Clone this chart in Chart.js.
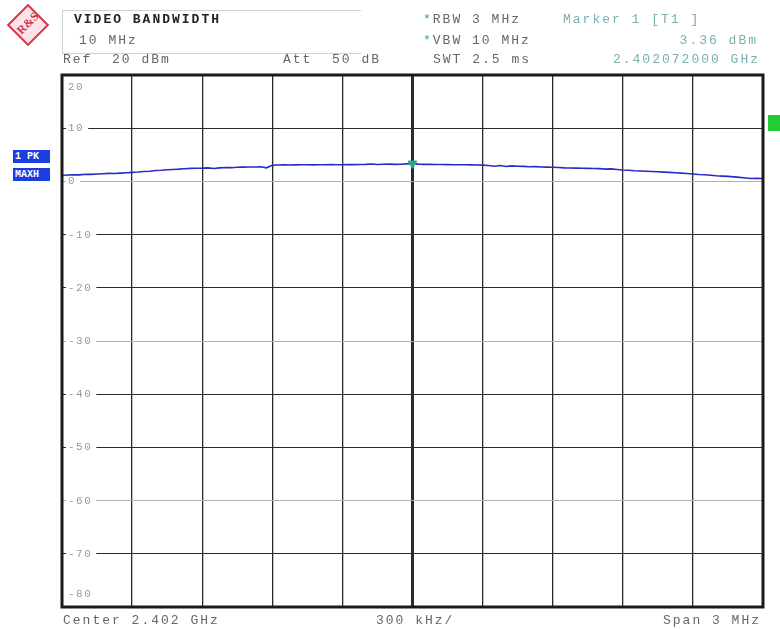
<!DOCTYPE html>
<html>
<head>
<meta charset="utf-8">
<script src="https://cdn.jsdelivr.net/npm/chart.js@4/dist/chart.umd.min.js"></script>
<style>
  html, body { margin: 0; padding: 0; background: #fff; }
  #wrap { position: relative; width: 780px; height: 629px; overflow: hidden; font-family: "Liberation Mono", "DejaVu Sans Mono", monospace; }
  #c { position: absolute; left: 0; top: 0; }
  .t { position: absolute; font-size: 13px; letter-spacing: 2px; color: #666; white-space: pre; line-height: 14px; }
  .b { font-weight: bold; color: #222; }
  .m { color: #7ab0b0; }
  .g { color: #2fb070; }
  .r { text-align: right; }
  #hbox { position: absolute; left: 62px; top: 10px; width: 298px; height: 42px; border: 1px solid #d0d0d0; border-right: none; }
  #logo { position: absolute; left: 13px; top: 10px; width: 26px; height: 26px; transform: rotate(45deg); border: 2px solid #d8334a; background: #fbe3e8; }
  #logotxt { position: absolute; left: 13px; top: 16px; width: 30px; font: bold 12px "Liberation Serif", serif; color: #d8334a; transform: rotate(-45deg); text-align: center; }
  .tag { position: absolute; left: 13px; width: 37px; height: 13px; background: #1a3ee0; color: #fff; font: bold 10px "Liberation Mono", monospace; line-height: 13px; padding-left: 2px; box-sizing: border-box; white-space: pre; }
  #green { position: absolute; left: 768px; top: 115px; width: 12px; height: 16px; background: #22cc33; }
</style>
</head>
<body>
<div id="wrap">
  <canvas id="c" width="780" height="629"></canvas>
  <div id="logo"></div>
  <div id="logotxt">R&amp;S</div>
  <div id="hbox"></div>
  <div class="t b" style="left:74px;top:13px;">VIDEO BANDWIDTH</div>
  <div class="t" style="left:79px;top:34px;">10 MHz</div>
  <div class="t" style="left:63px;top:53px;">Ref  20 dBm</div>
  <div class="t" style="left:283px;top:53px;">Att  50 dB</div>
  <div class="t" style="left:423px;top:13px;"><span class="g">*</span>RBW 3 MHz</div>
  <div class="t" style="left:423px;top:34px;"><span class="g">*</span>VBW 10 MHz</div>
  <div class="t" style="left:433px;top:53px;">SWT 2.5 ms</div>
  <div class="t m" style="left:563px;top:13px;">Marker 1 [T1 ]</div>
  <div class="t m r" style="right:22px;top:34px;">3.36 dBm</div>
  <div class="t m r" style="right:20px;top:53px;">2.402072000 GHz</div>
  <div class="t" style="left:63px;top:614px;">Center 2.402 GHz</div>
  <div class="t" style="left:376px;top:614px;">300 kHz/</div>
  <div class="t r" style="right:19px;top:614px;">Span 3 MHz</div>
  <div class="tag" style="top:150px;">1 PK</div>
  <div class="tag" style="top:168px;">MAXH</div>
  <div id="green"></div>
</div>
<script>
// Frequency offsets from center (kHz); sweep points are evenly spaced
const spanStartKHz = -1500;
const sweepStepKHz = 25;
// Trace level (dBm)
const traceLevels = [
  1.10, 1.20, 1.25, 1.22, 1.35, 1.32, 1.40, 1.45, 1.50, 1.48,
  1.55, 1.62, 1.70, 1.76, 1.85, 1.92, 2.05, 2.10, 2.20, 2.25,
  2.30, 2.38, 2.45, 2.48, 2.50, 2.55, 2.42, 2.55, 2.60, 2.58,
  2.65, 2.68, 2.70, 2.72, 2.75, 2.55, 3.05, 3.08, 3.10, 3.08,
  3.10, 3.12, 3.12, 3.10, 3.12, 3.14, 3.15, 3.12, 3.13, 3.16,
  3.15, 3.18, 3.20, 3.28, 3.18, 3.22, 3.25, 3.20, 3.22, 3.30,
  3.36, 3.25, 3.20, 3.20, 3.18, 3.17, 3.15, 3.14, 3.12, 3.12,
  3.10, 3.08, 3.05, 3.00, 2.85, 2.98, 2.80, 2.92, 2.85, 2.82,
  2.75, 2.78, 2.70, 2.68, 2.65, 2.62, 2.55, 2.52, 2.50, 2.48,
  2.45, 2.42, 2.40, 2.30, 2.35, 2.25, 2.15, 2.10, 2.00, 1.95,
  1.90, 1.85, 1.80, 1.75, 1.70, 1.62, 1.55, 1.48, 1.40, 1.30,
  1.25, 1.15, 1.05, 1.00, 0.95, 0.85, 0.75, 0.65, 0.55, 0.60,
  0.55
];
// Marker 1
const markerOffsetKHz = [0];
const markerLevel = [3.36];
// Axis
const yTickLabels = ["20", "10", "0", "-10", "-20", "-30", "-40", "-50", "-60", "-70", "-80"];
const yMin = -80, yMax = 20, yStep = 10;
const xMin = -1500, xMax = 1500, xStep = 300;

const tracePoints = traceLevels.map((v, i) => ({ x: spanStartKHz + i * sweepStepKHz, y: v }));
const markerPoints = markerOffsetKHz.map((x, i) => ({ x: x, y: markerLevel[i] }));

const yLabelPlugin = {
  id: 'yLabels',
  beforeDatasetsDraw(chart) {
    const ctx = chart.ctx, ys = chart.scales.y, ca = chart.chartArea;
    ctx.save();
    ctx.font = '11px "Liberation Mono", monospace';
    ctx.letterSpacing = '1.5px';
    ctx.textBaseline = 'middle';
    yTickLabels.forEach((lab, i) => {
      const val = Number(lab);
      let y = ys.getPixelForValue(val);
      if (i === 0) y += 12;
      if (i === yTickLabels.length - 1) y -= 13;
      const w = ctx.measureText(lab).width;
      ctx.fillStyle = '#fff';
      ctx.fillRect(ca.left + 4, y - 6, w + 6, 12);
      ctx.fillStyle = '#999';
      ctx.fillText(lab, ca.left + 6, y);
    });
    ctx.restore();
  },
  afterDatasetsDraw(chart) {
    const ctx = chart.ctx, ca = chart.chartArea;
    ctx.save();
    ctx.strokeStyle = '#1a1a1a';
    ctx.lineWidth = 3;
    ctx.strokeRect(ca.left, ca.top, ca.right - ca.left, ca.bottom - ca.top);
    ctx.restore();
  }
};

new Chart(document.getElementById('c'), {
  type: 'scatter',
  data: {
    datasets: [
      {
        label: 'Marker 1',
        data: markerPoints,
        showLine: false,
        pointStyle: 'triangle',
        rotation: 180,
        pointRadius: 5,
        backgroundColor: '#2aa88a',
        borderColor: '#2aa88a',
        order: 0
      },
      {
        label: '1 PK MAXH',
        data: tracePoints,
        showLine: true,
        borderColor: '#2a2ac8',
        borderWidth: 1.6,
        pointRadius: 0,
        tension: 0,
        order: 1
      }
    ]
  },
  options: {
    responsive: false,
    animation: false,
    devicePixelRatio: 1,
    layout: { padding: { left: 62, top: 75, right: 17, bottom: 22 } },
    plugins: { legend: { display: false }, tooltip: { enabled: false } },
    scales: {
      x: {
        type: 'linear', min: xMin, max: xMax,
        ticks: { display: false, stepSize: xStep },
        border: { display: false },
        grid: {
          drawTicks: false,
          color: '#2a2a2a',
          lineWidth: (c) => (c.index === 5 ? 3 : 1.3)
        }
      },
      y: {
        type: 'linear', min: yMin, max: yMax,
        ticks: { display: false, stepSize: yStep },
        border: { display: false },
        grid: {
          drawTicks: false,
          color: (c) => {
            const v = c.tick ? c.tick.value : 0;
            return (v === 0 || v === -30 || v === -60) ? '#b0b0b0' : '#2a2a2a';
          },
          lineWidth: 1
        }
      }
    }
  },
  plugins: [yLabelPlugin]
});
</script>
</body>
</html>
